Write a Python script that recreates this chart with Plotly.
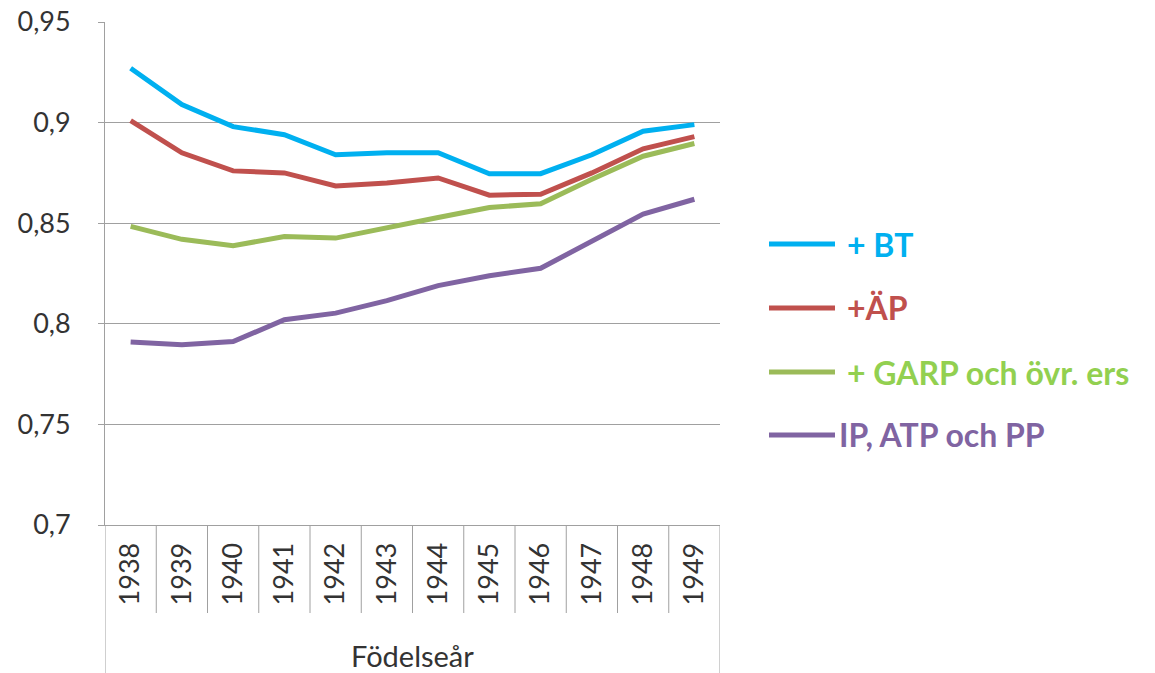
import plotly.graph_objects as go

years = ["1938", "1939", "1940", "1941", "1942", "1943", "1944", "1945", "1946", "1947", "1948", "1949"]
series_names = ["+ BT", "+ÄP", "+ GARP och övr. ers", "IP, ATP och PP"]
bt = [0.927, 0.909, 0.898, 0.894, 0.884, 0.885, 0.885, 0.8746, 0.8746, 0.884, 0.8957, 0.899]
ap = [0.901, 0.885, 0.876, 0.875, 0.8685, 0.870, 0.8725, 0.8639, 0.8644, 0.875, 0.887, 0.893]
garp = [0.8484, 0.842, 0.8388, 0.8434, 0.8426, 0.8479, 0.8528, 0.8578, 0.8597, 0.8718, 0.8833, 0.8896]
ip = [0.791, 0.7896, 0.7912, 0.802, 0.8053, 0.8115, 0.819, 0.8239, 0.8276, 0.8413, 0.8545, 0.8619]

line_colors = ["#00B0F0", "#C0504D", "#9BBB59", "#8064A2"]
text_colors = ["#00B0F0", "#C0504D", "#92D050", "#8064A2"]
all_series = [bt, ap, garp, ip]

FONT = "Lato"
GRID = "#A0A0A0"
TXT = "#333333"

W, H = 1155, 673
L, R, T, B = 105, 435, 22, 148
pw = W - L - R
ph = H - T - B

def px_to_paper_x(px):
    return (px - L) / pw

def px_to_paper_y(py):
    return (H - B - py) / ph

fig = go.Figure()
for name, vals, col in zip(series_names, all_series, line_colors):
    fig.add_trace(go.Scatter(x=years, y=vals, mode="lines", name=name,
                             line=dict(color=col, width=5), showlegend=False))

shapes = []
# category dividers below axis
for i in range(1, len(years)):
    shapes.append(dict(type="line", xref="x", yref="paper", x0=i - 0.5, x1=i - 0.5,
                       y0=0, y1=px_to_paper_y(613), line=dict(color=GRID, width=1)))
# outer lines
for xv in (-0.5, len(years) - 0.5):
    shapes.append(dict(type="line", xref="x", yref="paper", x0=xv, x1=xv,
                       y0=0, y1=px_to_paper_y(H), line=dict(color=GRID, width=1)))

# manual legend
leg_y = [244, 308, 372, 435]
text_x = [845, 845, 845, 837]
annotations = []
for name, col, tcol, yy, tx in zip(series_names, line_colors, text_colors, leg_y, text_x):
    shapes.append(dict(type="line", xref="paper", yref="paper",
                       x0=px_to_paper_x(769), x1=px_to_paper_x(835),
                       y0=px_to_paper_y(yy), y1=px_to_paper_y(yy),
                       line=dict(color=col, width=5)))
    annotations.append(dict(xref="paper", yref="paper", x=px_to_paper_x(tx), y=px_to_paper_y(yy),
                            xanchor="left", yanchor="middle", showarrow=False,
                            text="<b>%s</b>" % name,
                            font=dict(family=FONT, size=32, color=tcol)))

annotations.append(dict(xref="paper", yref="paper", x=0.5, y=px_to_paper_y(656),
                        xanchor="center", yanchor="middle", showarrow=False,
                        text="Födelseår", font=dict(family=FONT, size=29, color=TXT)))

fig.update_layout(
    width=W, height=H,
    margin=dict(l=L, r=R, t=T, b=B, pad=0, autoexpand=False),
    paper_bgcolor="white", plot_bgcolor="white",
    separators=", ",
    font=dict(family=FONT, color=TXT),
    shapes=shapes, annotations=annotations,
    showlegend=False,
)
fig.update_xaxes(type="category", range=[-0.5, len(years) - 0.5], automargin=False,
                 showgrid=False, showline=True, linecolor=GRID, linewidth=1,
                 ticks="", tickangle=-90, tickfont=dict(family=FONT, size=27, color=TXT),
                 ticklabelstandoff=6)
fig.update_yaxes(range=[0.7, 0.95], dtick=0.05, tick0=0.7, automargin=False,
                 showgrid=True, gridcolor=GRID, gridwidth=1,
                 showline=True, linecolor=GRID, linewidth=1,
                 ticks="outside", ticklen=6, tickcolor=GRID,
                 tickfont=dict(family=FONT, size=27, color=TXT),
                 ticklabelstandoff=22, zeroline=False)

fig.write_html("out.html", config={"displayModeBar": False},
               post_script="document.body.style.margin='0';document.body.style.padding='0';")
